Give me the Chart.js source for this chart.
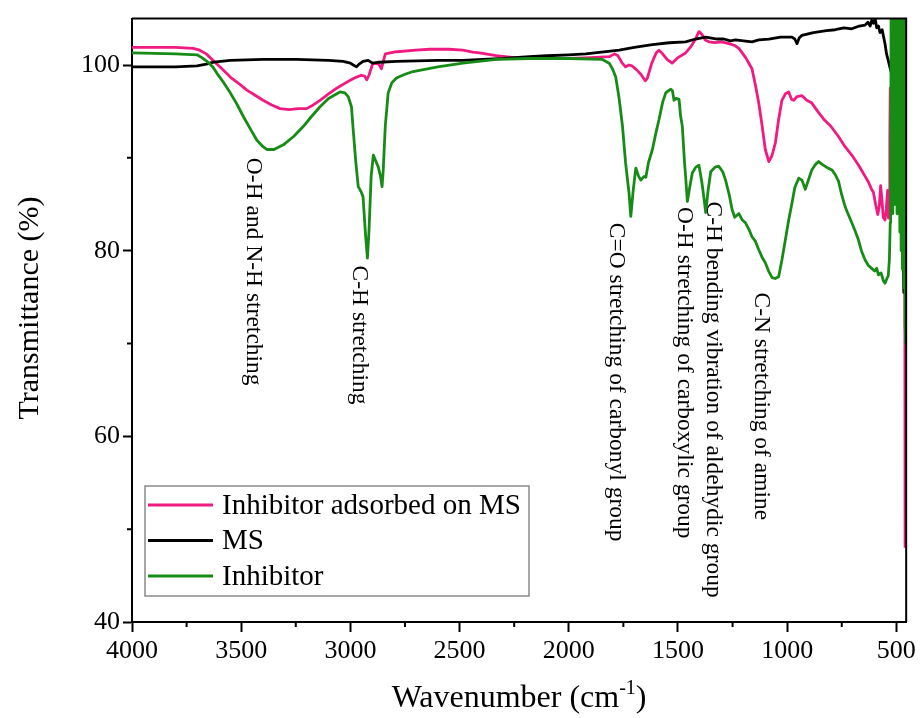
<!DOCTYPE html>
<html>
<head>
<meta charset="utf-8">
<script src="https://cdn.jsdelivr.net/npm/chart.js@4.4.1/dist/chart.umd.min.js"></script>
<style>
  html, body { margin: 0; padding: 0; background: #fff; }
</style>
</head>
<body>
<canvas id="myChart" width="920" height="718"></canvas>
<script>
// tick values
const xTicks = [4000, 3500, 3000, 2500, 2000, 1500, 1000, 500];
const xMinor = [3750, 3250, 2750, 2250, 1750, 1250, 750];
const yTicks = [40, 60, 80, 100];
const yMinor = [50, 70, 90];

// Inhibitor adsorbed on MS (pink)
const adsorbedWn = [4000, 3800, 3720, 3690, 3660, 3620, 3580, 3550, 3500, 3474, 3440, 3400, 3360, 3322, 3280, 3240, 3200, 3170, 3139, 3100,
  3063, 3020, 2990, 2972, 2950, 2935, 2925, 2915, 2897, 2870, 2858, 2848, 2840, 2800, 2700, 2637, 2550, 2486, 2440, 2409,
  2332, 2250, 2180, 2100, 2000, 1900, 1815, 1790, 1775, 1755, 1740, 1725, 1710, 1690, 1670, 1650, 1640, 1620, 1600, 1587,
  1570, 1550, 1527, 1500, 1465, 1440, 1420, 1404, 1390, 1375, 1358, 1330, 1300, 1267, 1240, 1221, 1190, 1161, 1145, 1130,
  1115, 1100, 1084, 1070, 1054, 1040, 1024, 1008, 993, 980, 970, 955, 932, 910, 887, 860, 830, 800, 765, 735,
  704, 670, 643, 628, 613, 605, 595, 585, 578, 572, 566, 560, 552, 546, 540, 536, 532, 530, 528, 526,
  520, 510, 500, 490, 480, 470, 464, 462, 460, 457];
const adsorbedT = [101.9, 101.9, 101.8, 101.6, 101.2, 100.3, 99.4, 98.7, 97.8, 97.3, 96.8, 96.2, 95.7, 95.3, 95.2, 95.3, 95.3, 95.7, 96.2, 96.9,
  97.5, 98.1, 98.5, 98.7, 98.9, 98.8, 98.4, 98.9, 100.2, 100.1, 99.6, 100.5, 101.2, 101.4, 101.6, 101.7, 101.7, 101.6, 101.4, 101.3,
  101.0, 100.8, 100.8, 100.7, 100.7, 100.8, 100.9, 101.2, 101.0, 100.2, 99.8, 100.0, 99.9, 99.5, 99.0, 98.3, 98.6, 100.2, 101.3, 101.6,
  101.2, 100.6, 100.2, 100.8, 101.3, 102.0, 102.8, 103.6, 103.3, 102.7, 102.5, 102.4, 102.5, 102.3, 102.1, 101.8, 100.8, 99.6, 97.8, 95.9,
  93.5, 90.9, 89.6, 90.2, 91.6, 94.0, 96.2, 96.9, 97.1, 96.3, 96.2, 96.6, 96.7, 96.2, 95.9, 95.0, 94.1, 93.4, 92.3, 91.2,
  90.3, 89.1, 88.0, 87.4, 86.6, 86.3, 85.0, 83.9, 84.8, 87.0, 85.5, 83.6, 83.3, 84.5, 86.5, 83.5, 84.0, 92.0, 97.5, 84.0,
  96.0, 104.0, 106.0, 106.0, 106.0, 106.0, 104.0, 106.0, 48.0, 48.0];

// MS (black)
const msWn = [4000, 3800, 3702, 3660, 3626, 3550, 3400, 3246, 3100, 3033, 3000, 2987, 2972, 2960, 2942, 2919, 2905, 2896, 2870, 2789,
  2600, 2485, 2300, 2180, 2100, 2000, 1922, 1850, 1769, 1700, 1617, 1540, 1465, 1420, 1373, 1320, 1290, 1260, 1237, 1200,
  1161, 1130, 1084, 1030, 990, 978, 965, 955, 945, 932, 880, 820, 780, 740, 704, 670, 643, 630, 620, 613,
  605, 597, 590, 582, 575, 565, 552, 545, 537, 530, 522, 520, 517, 512, 505, 495, 485, 475, 468, 466,
  463, 460, 457];
const msT = [99.8, 99.8, 99.9, 100.1, 100.3, 100.5, 100.6, 100.6, 100.5, 100.4, 100.2, 100.0, 99.8, 100.1, 100.4, 100.5, 100.3, 100.2, 100.3, 100.4,
  100.5, 100.5, 100.7, 100.9, 101.0, 101.1, 101.2, 101.4, 101.6, 101.9, 102.2, 102.4, 102.5, 102.8, 103.0, 102.8, 102.8, 102.6, 102.7, 102.6,
  102.5, 102.7, 102.8, 103.0, 103.0, 103.0, 102.8, 102.3, 102.9, 103.2, 103.5, 103.7, 103.8, 104.0, 103.9, 104.2, 104.3, 104.6, 104.2, 104.8,
  104.5, 105.0, 104.0, 104.2, 103.5, 103.8, 102.3, 101.2, 100.5, 99.8, 99.1, 95.0, 88.0, 97.0, 92.0, 100.0, 90.0, 85.0, 78.0, 75.5,
  95.0, 104.0, 105.0];

// Inhibitor (green)
const inhibitorWn = [4000, 3800, 3702, 3680, 3657, 3630, 3611, 3580, 3550, 3520, 3489, 3460, 3428, 3400, 3383, 3350, 3307, 3260, 3215, 3180,
  3139, 3100, 3048, 3025, 3010, 2995, 2987, 2975, 2964, 2950, 2942, 2930, 2922, 2915, 2905, 2895, 2881, 2872, 2862, 2855,
  2850, 2840, 2827, 2810, 2789, 2750, 2713, 2600, 2485, 2332, 2180, 2000, 1846, 1815, 1800, 1785, 1770, 1754, 1740, 1724,
  1716, 1705, 1693, 1680, 1670, 1655, 1647, 1635, 1617, 1600, 1587, 1570, 1556, 1540, 1533, 1525, 1518, 1508, 1495, 1488,
  1480, 1470, 1465, 1457, 1445, 1434, 1418, 1404, 1395, 1389, 1380, 1373, 1362, 1350, 1330, 1313, 1295, 1282, 1265, 1252,
  1240, 1221, 1205, 1191, 1175, 1161, 1145, 1130, 1115, 1100, 1085, 1069, 1055, 1039, 1024, 1008, 993, 978, 965, 947,
  932, 917, 900, 887, 870, 856, 840, 820, 795, 780, 765, 750, 734, 720, 704, 690, 674, 660, 643, 628,
  613, 600, 590, 582, 570, 560, 552, 543, 537, 532, 528, 526, 524, 521, 519, 516, 513, 510, 507, 504,
  501, 497, 494, 490, 487, 484, 481, 478, 475, 472, 469, 466, 463, 460, 458, 456];
const inhibitorT = [101.3, 101.2, 101.1, 100.8, 100.4, 99.8, 99.1, 98.1, 97.0, 95.8, 94.4, 93.2, 91.9, 91.2, 90.9, 90.9, 91.4, 92.3, 93.4, 94.4,
  95.5, 96.4, 97.1, 97.0, 96.6, 95.5, 93.0, 89.5, 86.9, 86.3, 85.8, 81.5, 79.2, 82.0, 88.0, 90.3, 89.5, 89.0, 88.0, 86.9,
  88.5, 93.5, 97.0, 98.1, 98.6, 99.0, 99.3, 99.8, 100.2, 100.6, 100.7, 100.7, 100.6, 100.2, 99.6, 98.7, 96.5, 93.4, 89.5, 86.2,
  83.7, 86.5, 88.9, 88.0, 87.6, 88.0, 87.9, 89.5, 90.9, 92.8, 94.1, 96.0, 97.0, 97.3, 97.4, 97.2, 96.2, 96.4, 96.3, 94.5,
  93.4, 89.5, 88.0, 85.3, 87.0, 88.4, 89.0, 89.2, 88.0, 87.1, 85.5, 84.1, 86.5, 88.5, 89.0, 89.1, 88.5, 87.6, 86.0, 84.4,
  83.6, 84.0, 83.3, 83.0, 82.3, 81.5, 81.0, 80.1, 79.3, 78.7, 77.8, 77.1, 77.0, 77.2, 79.0, 81.2, 83.3, 85.1, 86.8, 87.8,
  87.6, 86.6, 87.8, 88.7, 89.3, 89.6, 89.3, 89.0, 88.7, 88.2, 87.5, 86.0, 84.7, 83.9, 83.0, 82.2, 81.2, 80.0, 79.0, 78.4,
  78.1, 77.8, 78.1, 77.4, 77.6, 76.8, 76.5, 77.0, 77.3, 79.0, 83.0, 85.0, 106, 92, 106, 84, 106, 85, 106, 88,
  106, 84, 106, 86, 106, 82, 106, 80, 106, 78, 106, 76, 106, 72, 106, 70];

// peak labels
const notes = [
  { text: 'O-H and N-H stretching', wn: 3445, t: 90.0 },
  { text: 'C-H stretching', wn: 2961, t: 78.4 },
  { text: 'C=O stretching of carbonyl group', wn: 1785, t: 83.0 },
  { text: 'O-H stretching of carboxylic group', wn: 1470, t: 84.7 },
  { text: 'C-H bending vibration of aldehydic group', wn: 1340, t: 85.3 },
  { text: 'C-N stretching of amine', wn: 1117, t: 75.5 }
];

const serif = '"Liberation Serif", "Times New Roman", serif';
const pink = '#f01a80';
const black = '#000000';
const green = '#168c16';

function pairs(xs, ys) {
  return xs.map((v, i) => ({ x: v, y: ys[i] }));
}

// frame, minor ticks, labels, legend, axis titles
const extras = {
  id: 'extras',
  afterDraw(chart) {
    const { ctx, chartArea: a, scales: { x, y } } = chart;
    ctx.save();
    ctx.strokeStyle = '#000';
    ctx.lineWidth = 2;
    ctx.beginPath();
    ctx.moveTo(a.left, a.top);
    ctx.lineTo(a.right, a.top);
    ctx.lineTo(a.right, a.bottom);
    ctx.stroke();

    ctx.beginPath();
    xMinor.forEach(v => {
      const px = x.getPixelForValue(v);
      ctx.moveTo(px, a.bottom);
      ctx.lineTo(px, a.bottom + 5);
    });
    yMinor.forEach(v => {
      const py = y.getPixelForValue(v);
      ctx.moveTo(a.left, py);
      ctx.lineTo(a.left - 5, py);
    });
    ctx.stroke();

    // rotated peak labels
    ctx.fillStyle = '#000';
    ctx.font = '23.5px ' + serif;
    ctx.textAlign = 'left';
    ctx.textBaseline = 'middle';
    notes.forEach(n => {
      ctx.save();
      ctx.translate(x.getPixelForValue(n.wn), y.getPixelForValue(n.t));
      ctx.rotate(Math.PI / 2);
      ctx.fillText(n.text, 0, 0);
      ctx.restore();
    });

    // legend box
    const lx = a.left + 13, ly = 486, lw = 384, lh = 110;
    ctx.strokeStyle = '#8a8a8a';
    ctx.lineWidth = 1.5;
    ctx.strokeRect(lx, ly, lw, lh);
    ctx.font = '29px ' + serif;
    chart.data.datasets.forEach((ds, i) => {
      const ry = ly + 19 + i * 35.5;
      ctx.strokeStyle = ds.borderColor;
      ctx.lineWidth = 3;
      ctx.beginPath();
      ctx.moveTo(lx + 3, ry);
      ctx.lineTo(lx + 68, ry);
      ctx.stroke();
      ctx.fillStyle = '#000';
      ctx.fillText(ds.label, lx + 77, ry + 1);
    });

    // y title
    ctx.save();
    ctx.translate(30, 308);
    ctx.rotate(-Math.PI / 2);
    ctx.textAlign = 'center';
    ctx.font = '30px ' + serif;
    ctx.fillText('Transmittance (%)', 0, 0);
    ctx.restore();

    // x title with superscript
    ctx.textBaseline = 'alphabetic';
    ctx.textAlign = 'left';
    const main = 'Wavenumber (cm', sup = '-1', close = ')';
    ctx.font = '32px ' + serif;
    const w1 = ctx.measureText(main).width, w3 = ctx.measureText(close).width;
    ctx.font = '20px ' + serif;
    const w2 = ctx.measureText(sup).width;
    const sx = a.left + a.width / 2 - (w1 + w2 + w3) / 2;
    const by = 707;
    ctx.font = '32px ' + serif;
    ctx.fillText(main, sx, by);
    ctx.font = '20px ' + serif;
    ctx.fillText(sup, sx + w1, by - 13);
    ctx.font = '32px ' + serif;
    ctx.fillText(close, sx + w1 + w2, by);
    ctx.restore();
  }
};

const ctx = document.getElementById('myChart').getContext('2d');
const myChart = new Chart(ctx, {
  type: 'line',
  data: {
    datasets: [
      { label: 'Inhibitor adsorbed on MS', data: pairs(adsorbedWn, adsorbedT), borderColor: pink, order: 2 },
      { label: 'MS', data: pairs(msWn, msT), borderColor: black, order: 1 },
      { label: 'Inhibitor', data: pairs(inhibitorWn, inhibitorT), borderColor: green, order: 0 }
    ]
  },
  options: {
    responsive: false,
    animation: false,
    devicePixelRatio: 1,
    layout: { padding: { top: 18, right: 12, left: 0, bottom: 0 } },
    elements: {
      line: { borderWidth: 2.8, tension: 0, borderJoinStyle: 'round', fill: false },
      point: { radius: 0 }
    },
    plugins: { legend: { display: false }, tooltip: { enabled: false } },
    scales: {
      x: {
        type: 'linear',
        reverse: true,
        min: 455,
        max: 4000,
        afterBuildTicks: s => { s.ticks = xTicks.map(v => ({ value: v })); },
        afterFit: s => { s.height = 96; },
        ticks: { color: '#000', font: { family: serif, size: 26 }, padding: 4, maxRotation: 0, autoSkip: false, callback: v => String(v) },
        grid: { drawOnChartArea: false, drawTicks: true, tickLength: 10, tickWidth: 2, tickColor: '#000' },
        border: { display: true, color: '#000', width: 2 }
      },
      y: {
        min: 40,
        max: 105,
        afterBuildTicks: s => { s.ticks = yTicks.map(v => ({ value: v })); },
        afterFit: s => { s.width = 132; },
        ticks: { color: '#000', font: { family: serif, size: 26 }, padding: 3, callback: v => String(v) },
        grid: { drawOnChartArea: false, drawTicks: true, tickLength: 9, tickWidth: 2, tickColor: '#000' },
        border: { display: true, color: '#000', width: 2 }
      }
    }
  },
  plugins: [extras]
});
</script>
</body>
</html>
